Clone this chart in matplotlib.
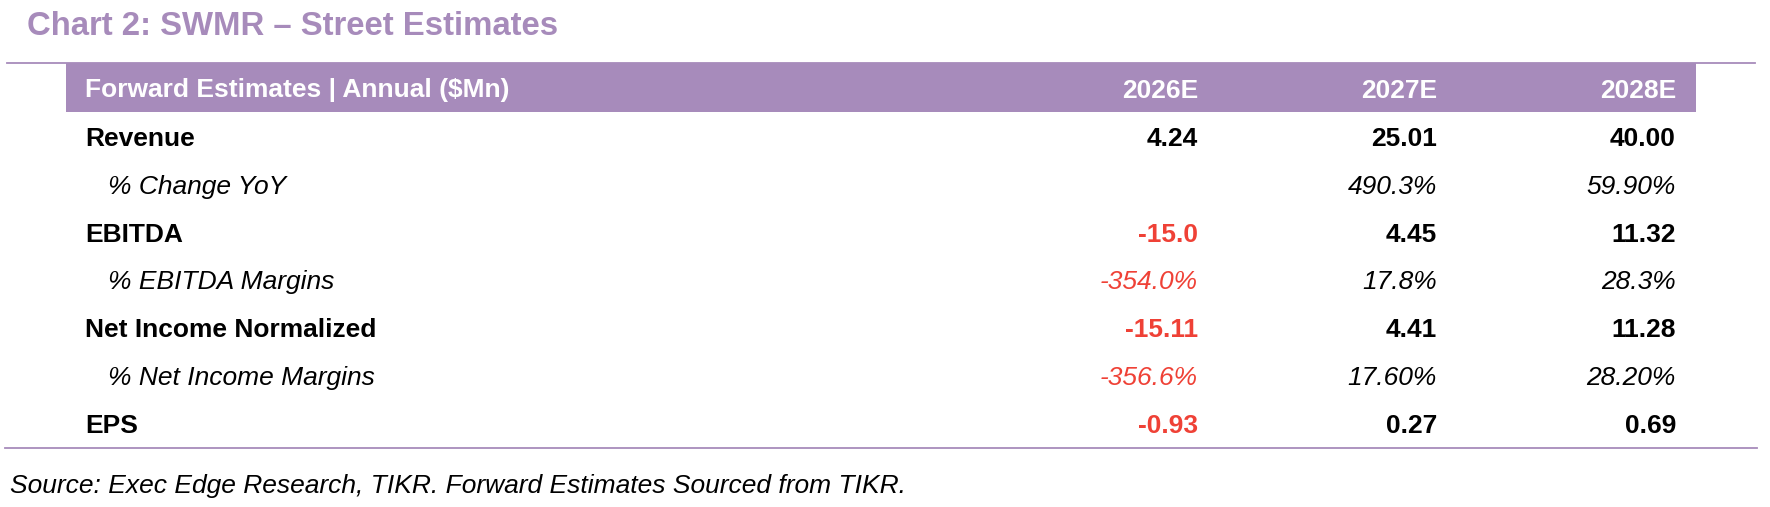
import matplotlib
matplotlib.use("Agg")
import matplotlib.pyplot as plt
from matplotlib.patches import Rectangle
from matplotlib.lines import Line2D

# ---- data ----
title = "Chart 2: SWMR \u2013 Street Estimates"
header_label = "Forward Estimates | Annual ($Mn)"
years = ["2026E", "2027E", "2028E"]
row_labels = ["Revenue", "% Change YoY", "EBITDA", "% EBITDA Margins",
              "Net Income Normalized", "% Net Income Margins", "EPS"]
revenue = [4.24, 25.01, 40.00]
revenue_yoy = [None, 490.3, 59.90]
ebitda = [-15.0, 4.45, 11.32]
ebitda_margin = [-354.0, 17.8, 28.3]
net_income = [-15.11, 4.41, 11.28]
net_income_margin = [-356.6, 17.60, 28.20]
eps = [-0.93, 0.27, 0.69]
decimals = [[2, 2, 2], [1, 1, 2], [1, 2, 2], [1, 1, 1],
            [2, 2, 2], [1, 2, 2], [2, 2, 2]]
is_pct = [False, True, False, True, False, True, False]
source = "Source: Exec Edge Research, TIKR. Forward Estimates Sourced from TIKR."

rows = [revenue, revenue_yoy, ebitda, ebitda_margin, net_income, net_income_margin, eps]

# ---- style ----
W, H = 1770, 507
PURPLE = "#A78BBB"
RED = "#EF4136"
FONT = "Liberation Sans"
FS = 19

fig = plt.figure(figsize=(W / 100, H / 100), dpi=100)
fig.patch.set_facecolor("white")
ax = fig.add_axes([0, 0, 1, 1])
ax.set_xlim(0, W)
ax.set_ylim(H, 0)
ax.axis("off")

# title
ax.text(27, 35, title, fontsize=23.7, fontweight="bold", color=PURPLE,
        family=FONT, va="baseline", ha="left")

# top rule and header band
ax.add_line(Line2D([7, 1755], [62.5, 62.5], color=PURPLE, lw=1.3))
ax.add_patch(Rectangle((66, 63), 1696 - 66, 112 - 63, facecolor=PURPLE,
                       edgecolor="none"))
ax.text(85, 97.5, header_label, fontsize=FS, fontweight="bold", color="white",
        family=FONT, va="baseline", ha="left")
col_right = [1198, 1437, 1676]
for x, y in zip(col_right, years):
    ax.text(x, 97.5, y, fontsize=FS, fontweight="bold", color="white",
            family=FONT, va="baseline", ha="right")

# body rows
row_base0 = 146
row_step = 47.8
for i, (label, vals) in enumerate(zip(row_labels, rows)):
    yb = row_base0 + i * row_step
    sub = is_pct[i]
    weight = "normal" if sub else "bold"
    style = "italic" if sub else "normal"
    lx = 108 if sub else 85
    ax.text(lx, yb, label, fontsize=FS, fontweight=weight, fontstyle=style,
            color="black", family=FONT, va="baseline", ha="left")
    for j, v in enumerate(vals):
        if v is None:
            continue
        txt = f"{v:.{decimals[i][j]}f}" + ("%" if sub else "")
        ax.text(col_right[j], yb, txt, fontsize=FS, fontweight=weight,
                fontstyle=style, color=RED if v < 0 else "black",
                family=FONT, va="baseline", ha="right")

# bottom rule
ax.add_line(Line2D([5, 1757], [448, 448], color=PURPLE, lw=1.3))

# source
ax.text(10, 493, source, fontsize=FS, fontstyle="italic", color="black",
        family=FONT, va="baseline", ha="left")

fig.savefig("out.png", dpi=100, facecolor="white")
